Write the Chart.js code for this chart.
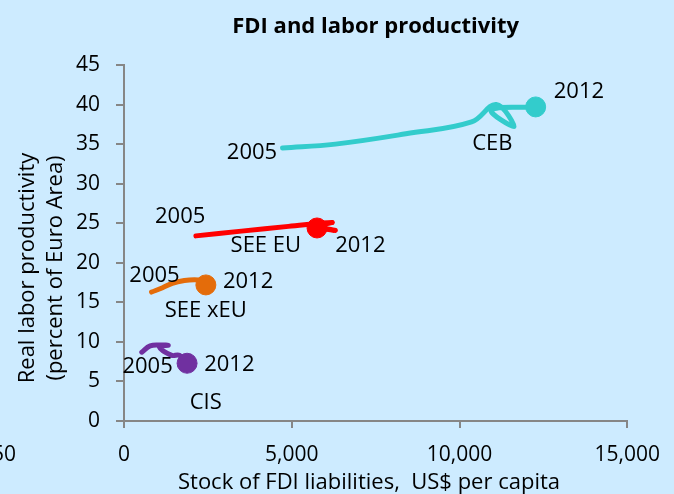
<!DOCTYPE html>
<html>
<head>
<meta charset="utf-8">
<script src="https://cdn.jsdelivr.net/npm/chart.js@4"></script>
<style>
  html, body { margin: 0; padding: 0; background: #cdebff; }
  #wrap { width: 674px; height: 494px; }
</style>
</head>
<body>
<div id="wrap"><canvas id="chart" width="674" height="494"></canvas></div>
<script>
// ── Data (2005 … 2012) ─────────────────────────────────────────────────────
const years = ['2005', '2006', '2007', '2008', '2009', '2010', '2011', '2012'];

const cebX  = [4726, 6300, 8400, 10360, 11095, 11623, 10950, 12270];
const cebY  = [34.5, 35.0, 36.3, 37.8, 40.0, 37.2, 39.3, 39.7];

const seeEuX = [2143, 3500, 4900, 6200, 5800, 6300, 5900, 5753];
const seeEuY = [23.4, 24.0, 24.6, 25.1, 24.6, 24.1, 24.3, 24.4];

const seeXeuX = [822, 1150, 1440, 1800, 2100, 2300, 2400, 2440];
const seeXeuY = [16.3, 16.85, 17.4, 17.75, 17.85, 17.75, 17.5, 17.2];

const cisX = [530, 780, 1100, 1320, 1050, 1420, 1650, 1880];
const cisY = [8.7, 9.5, 9.6, 9.55, 9.4, 8.3, 8.3, 7.3];

const xTicks = [0, 5000, 10000, 15000];
const yTicks = [0, 5, 10, 15, 20, 25, 30, 35, 40, 45];

const title  = 'FDI and labor productivity';
const xTitle = 'Stock of FDI liabilities,  US$ per capita';
const yTitle = ['Real labor productivity', '(percent of Euro Area)'];

// text labels placed in data coordinates
const notes = [
  { text: '2012',    x: 13560, y: 41.6 },
  { text: '2005',    x: 3816,  y: 33.9 },
  { text: 'CEB',     x: 10977, y: 35.0 },
  { text: '2005',    x: 1673,  y: 25.8 },
  { text: 'SEE EU',  x: 4227,  y: 22.1 },
  { text: '2012',    x: 7044,  y: 22.1 },
  { text: '2005',    x: 910,   y: 18.4 },
  { text: '2012',    x: 3698,  y: 17.6 },
  { text: 'SEE xEU', x: 2436,  y: 14.0 },
  { text: '2005',    x: 704,   y: 6.8 },
  { text: '2012',    x: 3140,  y: 7.1 },
  { text: 'CIS',     x: 2436,  y: 2.3 },
];

// ── Helpers ────────────────────────────────────────────────────────────────
const FONT = '"Open Sans", "Noto Sans", sans-serif';
const AXIS = '#868686';
const INK  = '#000';

function pts(xs, ys) {
  return xs.map((x, i) => ({ x, y: ys[i] }));
}

function series(label, xs, ys, color) {
  const last = xs.length - 1;
  return {
    label,
    data: pts(xs, ys),
    showLine: true,
    borderColor: color,
    backgroundColor: color,
    borderWidth: 5,
    borderCapStyle: 'round',
    borderJoinStyle: 'round',
    tension: 0.4,
    pointRadius: xs.map((_, i) => (i === last ? 10 : 0)),
    pointBorderWidth: 1,
    pointHoverRadius: 0,
  };
}

// ── Text plugin: title, axis titles, labels ─────────────────────────────────
const textPlugin = {
  id: 'texts',
  afterDatasetsDraw(chart) {
    const { ctx, chartArea, scales: { x, y } } = chart;
    ctx.save();
    ctx.fillStyle = INK;
    ctx.textAlign = 'center';
    ctx.textBaseline = 'middle';

    ctx.font = `22px ${FONT}`;
    notes.forEach(n => ctx.fillText(n.text, x.getPixelForValue(n.x), y.getPixelForValue(n.y)));

    ctx.font = `bold 22px ${FONT}`;
    ctx.fillText(title, (chartArea.left + chartArea.right) / 2, 27);

    ctx.font = `22px ${FONT}`;
    ctx.fillText(xTitle, 369, 483);

    ctx.save();
    ctx.translate(28, 268);
    ctx.rotate(-Math.PI / 2);
    ctx.fillText(yTitle[0], 0, 0);
    ctx.fillText(yTitle[1], 0, 28);
    ctx.restore();

    // stray clipped tick label at the left edge of the original
    ctx.font = `21px ${FONT}`;
    ctx.textAlign = 'right';
    ctx.fillText('50', 16, 455);
    ctx.restore();
  },
};

// ── Chart ──────────────────────────────────────────────────────────────────
new Chart(document.getElementById('chart'), {
  type: 'scatter',
  data: {
    datasets: [
      series('CEB',     cebX,    cebY,    '#33cccc'),
      series('SEE EU',  seeEuX,  seeEuY,  '#ff0000'),
      series('SEE xEU', seeXeuX, seeXeuY, '#e46c0a'),
      series('CIS',     cisX,    cisY,    '#7030a0'),
    ],
  },
  options: {
    responsive: false,
    animation: false,
    layout: { padding: { top: 65, right: 39, left: 0, bottom: 0 } },
    plugins: { legend: { display: false }, tooltip: { enabled: false }, title: { display: false } },
    scales: {
      x: {
        type: 'linear', min: 0, max: 15000,
        afterBuildTicks: s => { s.ticks = xTicks.map(v => ({ value: v })); },
        afterFit: s => { s.height = 73; },
        ticks: {
          color: INK, padding: 14,
          font: { family: FONT, size: 21 },
          callback: v => v.toLocaleString('en-US'),
        },
        grid: { drawOnChartArea: false, color: AXIS, lineWidth: 2, tickLength: 7 },
        border: { color: AXIS, width: 2 },
      },
      y: {
        type: 'linear', min: 0, max: 45,
        afterBuildTicks: s => { s.ticks = yTicks.map(v => ({ value: v })); },
        afterFit: s => { s.width = 124; },
        ticks: {
          color: INK, padding: 16,
          font: { family: FONT, size: 21 },
        },
        grid: { drawOnChartArea: false, color: AXIS, lineWidth: 2, tickLength: 8 },
        border: { color: AXIS, width: 2 },
      },
    },
  },
  plugins: [textPlugin],
});
</script>
</body>
</html>
